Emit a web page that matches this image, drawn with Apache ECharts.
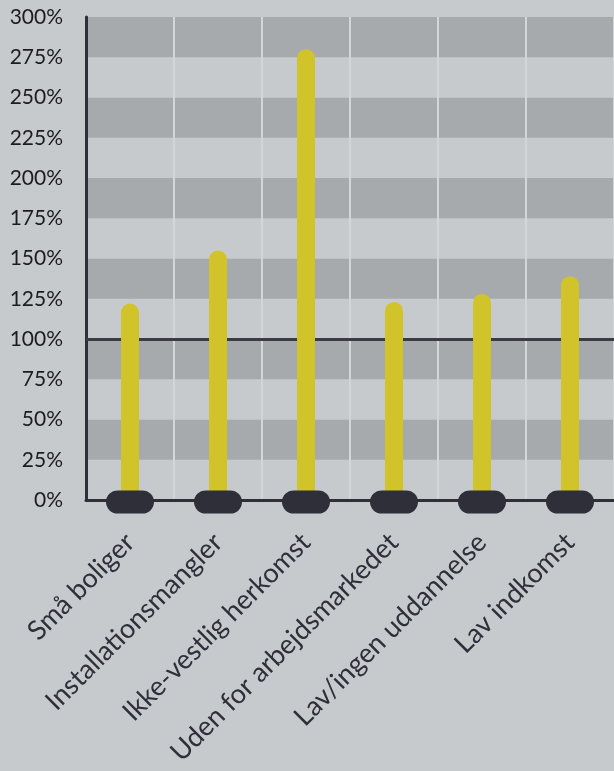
<!DOCTYPE html>
<html>
<head>
<meta charset="utf-8">
<style>
html,body{margin:0;padding:0;background:#c7cacd;}
#chart{width:614px;height:771px;}
</style>
<script src="https://cdn.jsdelivr.net/npm/echarts@6/dist/echarts.min.js"></script>
</head>
<body>
<div id="chart"></div>
<script>
var categories = ['Små boliger', 'Installationsmangler', 'Ikke-vestlig herkomst', 'Uden for arbejdsmarkedet', 'Lav/ingen uddannelse', 'Lav indkomst'];
var values = [122, 155, 280, 123, 128, 139];
var baseValues = [0, 0, 0, 0, 0, 0];
var referenceLevel = 100;

var chart = echarts.init(document.getElementById('chart'));
var font = 'Lato, "Open Sans", sans-serif';
chart.setOption({
  backgroundColor: '#c7cacd',
  animation: false,
  grid: { left: 86, right: -7, top: 17, bottom: 271, containLabel: false },
  xAxis: {
    type: 'category',
    data: categories,
    boundaryGap: true,
    axisLine: { show: true, lineStyle: { color: '#2f2f3a', width: 3 } },
    axisTick: { show: false },
    splitLine: { show: true, interval: 0, lineStyle: { color: '#d3d5d7', width: 2 } },
    axisLabel: { interval: 0, rotate: 45, margin: 38, fontSize: 27, color: '#2f2f3a', fontFamily: font }
  },
  yAxis: {
    type: 'value',
    min: 0, max: 300, interval: 25,
    axisLine: { show: true, lineStyle: { color: '#2f2f3a', width: 3 } },
    axisTick: { show: false },
    splitLine: { show: false },
    splitArea: { show: true, areaStyle: { color: ['#c7cacd', '#a7aaad'] } },
    axisLabel: { formatter: '{value}%', margin: 23, fontSize: 21, color: '#1c1c20', fontFamily: font, padding: [8, 0, 0, 0] }
  },
  series: [
    {
      type: 'bar',
      data: values,
      barWidth: 18,
      z: 3,
      itemStyle: { color: '#d1c32a', borderRadius: [9, 9, 0, 0] },
      markLine: {
        z: 1,
        silent: true,
        symbol: 'none',
        label: { show: false },
        lineStyle: { color: '#3a3b44', width: 3, type: 'solid' },
        data: [{ yAxis: referenceLevel }]
      }
    },
    {
      type: 'scatter',
      data: baseValues,
      z: 4,
      symbol: 'path://M11.5,0 L36.5,0 A11.5,11.5 0 0 1 36.5,23 L11.5,23 A11.5,11.5 0 0 1 11.5,0 Z',
      symbolSize: [48, 23],
      symbolKeepAspect: false,
      symbolOffset: [0, 2],
      itemStyle: { color: '#2f2f3a', opacity: 1 }
    }
  ]
});
</script>
</body>
</html>
